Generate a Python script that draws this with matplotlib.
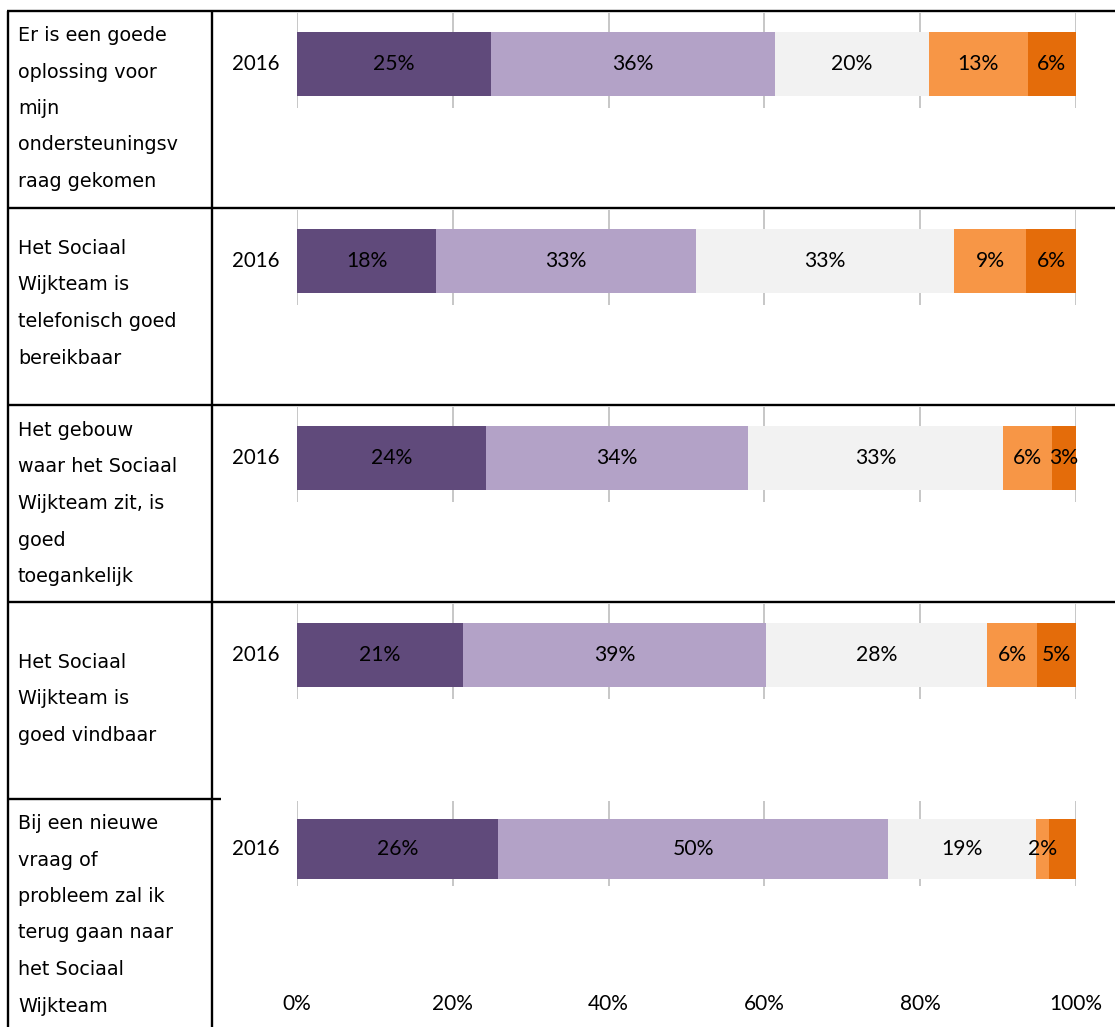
import matplotlib
matplotlib.use("Agg")
import matplotlib.pyplot as plt

# ---- data -------------------------------------------------------------
statements = [
    "Er is een goede\noplossing voor\nmijn\nondersteuningsv\nraag gekomen",
    "Het Sociaal\nWijkteam is\ntelefonisch goed\nbereikbaar",
    "Het gebouw\nwaar het Sociaal\nWijkteam zit, is\ngoed\ntoegankelijk",
    "Het Sociaal\nWijkteam is\ngoed vindbaar",
    "Bij een nieuwe\nvraag of\nprobleem zal ik\nterug gaan naar\nhet Sociaal\nWijkteam",
]
year = "2016"

# share of answers per statement (percent), from "helemaal eens" to "helemaal oneens"
helemaal_eens = [24.9, 17.9, 24.3, 21.3, 25.8]
eens = [36.4, 33.3, 33.6, 38.9, 50.1]
neutraal = [19.8, 33.2, 32.7, 28.4, 19.0]
oneens = [12.7, 9.2, 6.3, 6.4, 1.6]
helemaal_oneens = [6.2, 6.4, 3.1, 5.0, 3.5]

series = [helemaal_eens, eens, neutraal, oneens, helemaal_oneens]
colors = ["#604A7B", "#B3A2C7", "#F2F2F2", "#F79646", "#E46C0A"]
hidden_labels = {(4, 4)}  # (statement, answer) pairs shown without a data label

x_ticks = [0, 20, 40, 60, 80, 100]
x_tick_labels = ["0%", "20%", "40%", "60%", "80%", "100%"]

# ---- layout (pixels) ----------------------------------------------------
W, H, DPI = 1115, 1027, 100
ROW_H = 197
TOP = 11
PLOT_L, PLOT_R = 297, 1076
LABEL_FONT = "Lato"
TEXT_FONT = "DejaVu Sans"

fig = plt.figure(figsize=(W / DPI, H / DPI), dpi=DPI)
fig.patch.set_facecolor("white")


def rect(left, top, right, bottom):
    return [left / W, 1 - bottom / H, (right - left) / W, (bottom - top) / H]


n = len(statements)
for i in range(n):
    row_top = TOP + ROW_H * i
    if i < n - 1:
        ax_top, ax_bot = row_top + 2, row_top + 97
        bar_top, bar_bot = row_top + 21, row_top + 85
    else:
        ax_top, ax_bot = row_top + 2, row_top + 87
        bar_top, bar_bot = row_top + 20, row_top + 80
    ax = fig.add_axes(rect(PLOT_L, ax_top, PLOT_R, ax_bot))
    ax.set_xlim(0, 100)
    ax.set_ylim(ax_bot, ax_top)
    yc = (bar_top + bar_bot) / 2
    left = 0.0
    for j, vals in enumerate(series):
        v = vals[i]
        ax.barh(yc, v, height=bar_bot - bar_top, left=left, color=colors[j],
                edgecolor="none", zorder=2)
        if (i, j) not in hidden_labels:
            ax.text(left + v / 2, yc, f"{v:.0f}%", ha="center", va="center",
                    fontsize=15.2, family=LABEL_FONT, color="#000000", zorder=3)
        left += v
    ax.set_xticks(x_ticks)
    ax.set_yticks([])
    ax.grid(axis="x", color="#BDBDBD", lw=1.2, zorder=0)
    ax.set_axisbelow(True)
    for s in ax.spines.values():
        s.set_visible(False)
    if i == n - 1:
        ax.set_xticklabels(x_tick_labels, family=LABEL_FONT, fontsize=15)
        ax.tick_params(axis="x", length=0, pad=78)
    else:
        ax.tick_params(axis="x", length=0, labelbottom=False)
    ax.patch.set_alpha(0)

# ---- table frame and text column --------------------------------------
ov = fig.add_axes([0, 0, 1, 1], zorder=5)
ov.set_xlim(0, W)
ov.set_ylim(H, 0)
ov.axis("off")
ov.patch.set_alpha(0)

LW = 1.7
ov.plot([7, W], [TOP, TOP], color="black", lw=LW, solid_capstyle="butt")
ov.plot([8, 8], [TOP, H], color="black", lw=LW, solid_capstyle="butt")
ov.plot([212, 212], [TOP, H], color="black", lw=LW, solid_capstyle="butt")
for i in range(1, n):
    y = TOP + ROW_H * i
    x_end = W if i < n - 1 else 221
    ov.plot([7, x_end], [y, y], color="black", lw=LW, solid_capstyle="butt")

first_baselines = [41, 254, 436, 668, 829]
LINE_STEP = 36.5
for i, txt in enumerate(statements):
    for k, line in enumerate(txt.split("\n")):
        ov.text(18, first_baselines[i] + k * LINE_STEP, line, ha="left",
                va="baseline", fontsize=13.8, family=TEXT_FONT, color="#000000")
    row_top = TOP + ROW_H * i
    yc = row_top + (53 if i < n - 1 else 50)
    ov.text(256, yc, year, ha="center", va="center", fontsize=14.8,
            family=LABEL_FONT, color="#000000")

fig.savefig("out.png", dpi=DPI, facecolor="white")
